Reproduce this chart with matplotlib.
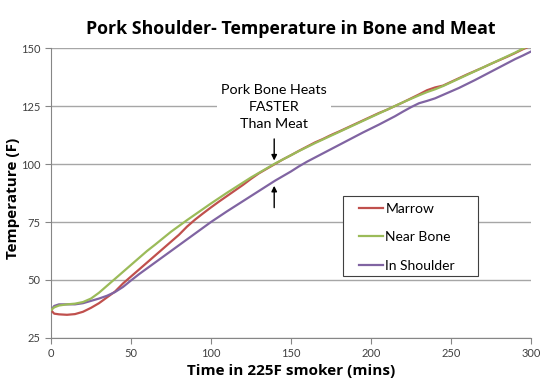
import numpy as np
import matplotlib.pyplot as plt
from matplotlib.patches import Rectangle

minutes = [0, 2, 5, 10, 15, 20, 25, 30, 35, 40, 45, 50, 55, 60, 65, 70, 75, 80, 85, 90,
           95, 100, 105, 110, 115, 120, 125, 130, 135, 140, 145, 150, 155, 160, 165,
           170, 175, 180, 185, 190, 195, 200, 205, 210, 215, 220, 225, 230, 235, 240,
           245, 250, 255, 260, 265, 270, 275, 280, 285, 290, 295, 300]

marrow = [37, 35.5, 35.2, 35, 35.3, 36.3, 38, 40, 42.5, 45, 48.5, 51.5, 54.5, 57.5,
          60.5, 63.5, 66.5, 69.5, 73, 76, 78.7, 81.3, 83.8, 86.2, 88.6, 91, 93.6, 96,
          98, 100, 102, 103.8, 105.7, 107.5, 109.3, 110.8, 112.5, 114, 115.6, 117.2,
          118.8, 120.4, 122, 123.4, 125, 126.6, 128.3, 130, 131.8, 133, 133.8, 135.4,
          137, 138.6, 140.1, 141.6, 143.2, 144.7, 146.2, 147.8, 149.5, 151]

near_bone = [37, 38.2, 39, 39.5, 39.8, 40.5, 42, 44.5, 47.5, 50.5, 53.5, 56.5, 59.5,
             62.5, 65.2, 68, 70.8, 73.3, 75.8, 78.2, 80.6, 83, 85.3, 87.6, 89.8, 92,
             94.2, 96.2, 98.2, 100.2, 102, 103.8, 105.6, 107.3, 109, 110.6, 112.2,
             113.8, 115.4, 117, 118.6, 120.2, 121.8, 123.4, 125, 126.6, 128.1, 129.6,
             131, 132.2, 133.6, 135.2, 136.8, 138.4, 140, 141.6, 143.2, 144.8, 146.4,
             148, 149.8, 151.5]

in_shoulder = [37, 38.8, 39.5, 39.5, 39.5, 40, 41, 42, 43.2, 44.8, 47, 49.8, 52.5, 55,
               57.5, 60, 62.5, 65, 67.5, 70, 72.5, 75, 77.3, 79.6, 81.8, 84, 86.2, 88.4,
               90.6, 92.8, 94.8, 96.8, 99, 101, 102.8, 104.6, 106.4, 108.2, 110, 111.8,
               113.6, 115.3, 117, 118.8, 120.6, 122.6, 124.5, 126.2, 127.2, 128.3, 129.8,
               131.3, 132.8, 134.5, 136.2, 138, 139.8, 141.6, 143.4, 145.2, 146.8, 148.5]

plt.rcParams['font.family'] = ['Lato', 'DejaVu Sans']
bold_font = ['Open Sans', 'DejaVu Sans']

fig = plt.figure(figsize=(5.5, 3.82), dpi=100)
ax = fig.add_axes([0.0927, 0.1152, 0.8728, 0.7591])

ax.plot(minutes, marrow, color='#C0504D', lw=1.6, label='Marrow', zorder=3)
ax.plot(minutes, near_bone, color='#9BBB59', lw=1.6, label='Near Bone', zorder=4)
ax.plot(minutes, in_shoulder, color='#8064A2', lw=1.6, label='In Shoulder', zorder=3)

ax.set_xlim(0, 300)
ax.set_ylim(25, 150)
ax.set_xticks(np.arange(0, 301, 50))
ax.set_yticks(np.arange(25, 151, 25))
ax.yaxis.grid(True, color='#A6A6A6', lw=1)
ax.set_axisbelow(True)
for s in ['top', 'right']:
    ax.spines[s].set_visible(False)
for s in ['left', 'bottom']:
    ax.spines[s].set_color('#868686')
ax.tick_params(colors='#868686', labelcolor='#404040', labelsize=8, length=4)

ax.set_title('Pork Shoulder- Temperature in Bone and Meat', fontsize=12.8,
             fontweight='bold', family=bold_font, pad=10)
ax.set_xlabel('Time in 225F smoker (mins)', fontsize=11, fontweight='bold',
              family=bold_font, labelpad=3)
ax.set_ylabel('Temperature (F)', fontsize=11, fontweight='bold', family=bold_font)
ax.yaxis.set_label_coords(-0.064, 0.48)

ax.text(139.5, 124.6, 'Pork Bone Heats\nFASTER\nThan Meat', ha='center', va='center',
        fontsize=10.3, linespacing=1.5, zorder=5,
        bbox=dict(facecolor='white', edgecolor='none', pad=3))
ax.annotate('', xy=(139.5, 100.3), xytext=(139.5, 112),
            arrowprops=dict(arrowstyle='-|>', color='black', lw=1, mutation_scale=8),
            zorder=6)
ax.annotate('', xy=(139.5, 91.8), xytext=(139.5, 80),
            arrowprops=dict(arrowstyle='-|>', color='black', lw=1, mutation_scale=8),
            zorder=6)

ax.add_patch(Rectangle((0.608, 0.2138), 0.2815, 0.2759, transform=ax.transAxes,
                       facecolor='white', edgecolor='#404040', lw=0.8, zorder=7))
leg = ax.legend(loc='upper left', bbox_to_anchor=(0.6417, 0.466), fontsize=10,
                frameon=False, handlelength=1.75, handletextpad=0.15,
                labelspacing=1.18, borderpad=0, borderaxespad=0)
leg.set_zorder(8)

fig.savefig('out.png', dpi=100)
